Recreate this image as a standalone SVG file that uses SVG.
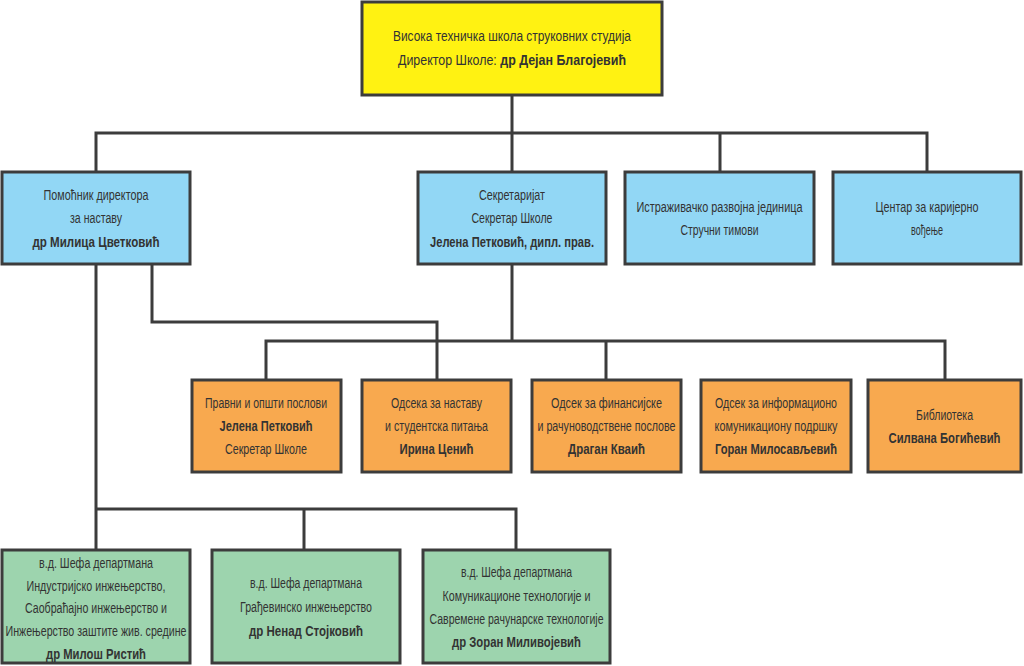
<svg xmlns="http://www.w3.org/2000/svg" width="1024" height="666" viewBox="0 0 1024 666">
<style>
.box{stroke:#3c3c3c;stroke-width:3}
.y{fill:#fff212}
.b{fill:#92d7f5}
.o{fill:#f8a94f}
.g{fill:#9dd4ae}
.conn{fill:none;stroke:#3c3c3c;stroke-width:3}
text{font-family:"Liberation Sans",Arial,sans-serif;font-size:14px;fill:#333333;text-anchor:middle}
.bd{font-weight:bold}
</style>
<rect width="1024" height="666" fill="#ffffff"/>
<g id="connectors">
<path class="conn" d="M512 96 V133 M96 171 V133 H927 V171 M512 133 V171 M720 133 V171"/>
<path class="conn" d="M96 265 V549 M96 509 H516 V549 M304 509 V549"/>
<path class="conn" d="M152 265 V322 H437 V379"/>
<path class="conn" d="M512 265 V341 M266 379 V341 H945 V379 M606 341 V379"/>
</g>
<g id="director">
<rect class="box y" x="362" y="2" width="300" height="93"/>
<text x="512" y="41" textLength="238" lengthAdjust="spacingAndGlyphs">Висока техничка школа струковних студија</text>
<text x="512" y="65" textLength="228" lengthAdjust="spacingAndGlyphs">Директор Школе: <tspan class="bd">др Дејан Благојевић</tspan></text>
</g>
<g id="pomocnik">
<rect class="box b" x="2" y="172" width="188" height="92"/>
<text x="96" y="200" textLength="105" lengthAdjust="spacingAndGlyphs">Помоћник директора</text>
<text x="96" y="223" textLength="52" lengthAdjust="spacingAndGlyphs">за наставу</text>
<text class="bd" x="96" y="247" textLength="127" lengthAdjust="spacingAndGlyphs">др Милица Цветковић</text>
</g>
<g id="sekretarijat">
<rect class="box b" x="418" y="172" width="188" height="92"/>
<text x="512" y="200" textLength="66" lengthAdjust="spacingAndGlyphs">Секретаријат</text>
<text x="512" y="223" textLength="81" lengthAdjust="spacingAndGlyphs">Секретар Школе</text>
<text class="bd" x="512" y="247" textLength="164" lengthAdjust="spacingAndGlyphs">Јелена Петковић, дипл. прав.</text>
</g>
<g id="istrazivacko">
<rect class="box b" x="625" y="172" width="189" height="92"/>
<text x="719.5" y="212" textLength="166" lengthAdjust="spacingAndGlyphs">Истраживачко развојна јединица</text>
<text x="719.5" y="235" textLength="78" lengthAdjust="spacingAndGlyphs">Стручни тимови</text>
</g>
<g id="centar">
<rect class="box b" x="833" y="172" width="188" height="92"/>
<text x="927" y="212" textLength="103" lengthAdjust="spacingAndGlyphs">Центар за каријерно</text>
<text x="927" y="235" textLength="32" lengthAdjust="spacingAndGlyphs">вођење</text>
</g>
<g id="pravni">
<rect class="box o" x="192" y="380" width="149" height="92"/>
<text x="266" y="408" textLength="122" lengthAdjust="spacingAndGlyphs">Правни и општи послови</text>
<text class="bd" x="266" y="431" textLength="93" lengthAdjust="spacingAndGlyphs">Јелена Петковић</text>
<text x="266" y="454" textLength="82" lengthAdjust="spacingAndGlyphs">Секретар Школе</text>
</g>
<g id="nastava">
<rect class="box o" x="362" y="380" width="149" height="92"/>
<text x="436.5" y="408" textLength="91" lengthAdjust="spacingAndGlyphs">Одсека за наставу</text>
<text x="436.5" y="431" textLength="103" lengthAdjust="spacingAndGlyphs">и студентска питања</text>
<text class="bd" x="436.5" y="454" textLength="74" lengthAdjust="spacingAndGlyphs">Ирина Ценић</text>
</g>
<g id="finansije">
<rect class="box o" x="532" y="380" width="149" height="92"/>
<text x="606.5" y="408" textLength="111" lengthAdjust="spacingAndGlyphs">Одсек за финансијске</text>
<text x="606.5" y="431" textLength="138" lengthAdjust="spacingAndGlyphs">и рачуноводствене послове</text>
<text class="bd" x="606.5" y="454" textLength="77" lengthAdjust="spacingAndGlyphs">Драган Кваић</text>
</g>
<g id="informaciono">
<rect class="box o" x="701" y="380" width="150" height="92"/>
<text x="776" y="408" textLength="122" lengthAdjust="spacingAndGlyphs">Одсек за информационо</text>
<text x="776" y="431" textLength="123" lengthAdjust="spacingAndGlyphs">комуникациону подршку</text>
<text class="bd" x="776" y="454" textLength="122" lengthAdjust="spacingAndGlyphs">Горан Милосављевић</text>
</g>
<g id="biblioteka">
<rect class="box o" x="868" y="380" width="153" height="92"/>
<text x="944.5" y="420" textLength="57" lengthAdjust="spacingAndGlyphs">Библиотека</text>
<text class="bd" x="944.5" y="443" textLength="112" lengthAdjust="spacingAndGlyphs">Силвана Богићевић</text>
</g>
<g id="dep1">
<rect class="box g" x="2" y="550" width="188" height="113"/>
<text x="96" y="568" textLength="114" lengthAdjust="spacingAndGlyphs">в.д. Шефа департмана</text>
<text x="96" y="591" textLength="139" lengthAdjust="spacingAndGlyphs">Индустријско инжењерство,</text>
<text x="96" y="613" textLength="142" lengthAdjust="spacingAndGlyphs">Саобраћајно инжењерство и</text>
<text x="96" y="636" textLength="181" lengthAdjust="spacingAndGlyphs">Инжењерство заштите жив. средине</text>
<text class="bd" x="96" y="659" textLength="100" lengthAdjust="spacingAndGlyphs">др Милош Ристић</text>
</g>
<g id="dep2">
<rect class="box g" x="212" y="550" width="188" height="113"/>
<text x="306" y="588" textLength="112" lengthAdjust="spacingAndGlyphs">в.д. Шефа департмана</text>
<text x="306" y="612" textLength="132" lengthAdjust="spacingAndGlyphs">Грађевинско инжењерство</text>
<text class="bd" x="306" y="636" textLength="114" lengthAdjust="spacingAndGlyphs">др Ненад Стојковић</text>
</g>
<g id="dep3">
<rect class="box g" x="423" y="550" width="187" height="113"/>
<text x="516.5" y="577" textLength="111" lengthAdjust="spacingAndGlyphs">в.д. Шефа департмана</text>
<text x="516.5" y="601" textLength="148" lengthAdjust="spacingAndGlyphs">Комуникационе технологије и</text>
<text x="516.5" y="624" textLength="174" lengthAdjust="spacingAndGlyphs">Савремене рачунарске технологије</text>
<text class="bd" x="516.5" y="647" textLength="129" lengthAdjust="spacingAndGlyphs">др Зоран Миливојевић</text>
</g>
</svg>
